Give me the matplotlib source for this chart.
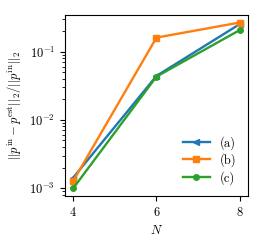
import matplotlib
matplotlib.use("Agg")
import matplotlib.pyplot as plt

plt.rcParams['font.family'] = 'serif'
plt.rcParams['font.serif'] = ['cmr10']
plt.rcParams['mathtext.fontset'] = 'cm'
plt.rcParams['axes.formatter.use_mathtext'] = True
plt.rcParams['font.size'] = 9

N = [4, 6, 8]
err_a = [1.43e-3, 0.044, 0.252]
err_b = [1.28e-3, 0.16, 0.266]
err_c = [1.0e-3, 0.043, 0.206]

fig = plt.figure(figsize=(2.63, 2.44), dpi=100)
ax = fig.add_axes([0.247, 0.197, 0.696, 0.742])

ax.plot(N, err_a, '<-', color='#1f77b4', lw=1.7, ms=4, label='(a)')
ax.plot(N, err_b, 's-', color='#ff7f0e', lw=1.7, ms=4, label='(b)')
ax.plot(N, err_c, 'o-', color='#2ca02c', lw=1.7, ms=4, label='(c)')

ax.set_yscale('log')
ax.set_xlim(3.8, 8.2)
ax.set_ylim(7.7e-4, 0.344)
ax.set_xticks(N)
ax.set_xlabel(r'$N$')
ax.set_ylabel(r'$||p^{\rm in} - p^{\rm est}||_2/||p^{\rm in}||_2$')
ax.legend(loc='lower right', frameon=False, handlelength=2.2, labelspacing=0.3)

fig.savefig('out.png', dpi=100)
